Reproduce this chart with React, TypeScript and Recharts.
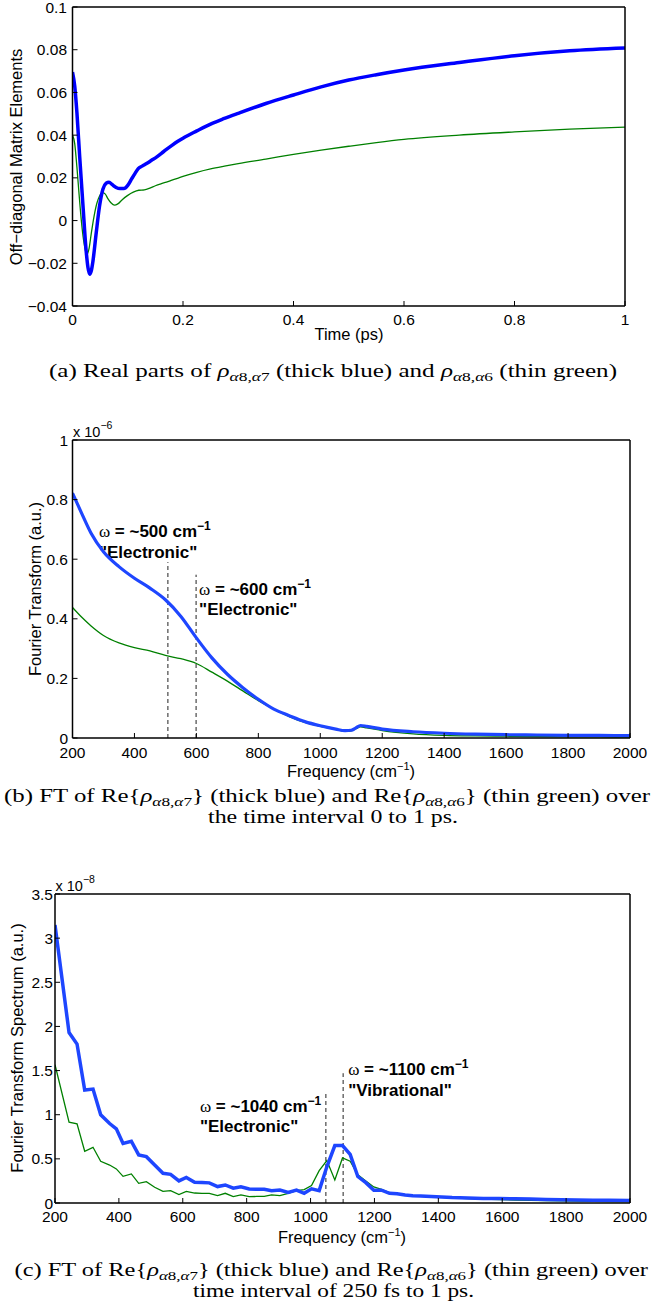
import { LineChart, Line, XAxis, YAxis, ReferenceLine } from 'recharts'

const SANS = '"Liberation Sans", Arial, Helvetica, sans-serif'
const SERIF = '"Liberation Serif", "Times New Roman", serif'
const BLUE_A = '#0000ff'
const BLUE = '#1e46ff'
const GREEN = '#008000'

// (a) real parts vs time (ps)
const timeBlueA = [0, 0.004, 0.008, 0.013, 0.019, 0.025, 0.028, 0.031, 0.034, 0.037, 0.043, 0.049, 0.055, 0.061, 0.066, 0.072, 0.079, 0.086, 0.093, 0.1, 0.107, 0.113, 0.119, 0.126, 0.134, 0.143, 0.152, 0.161, 0.17, 0.18, 0.19, 0.2, 0.225, 0.25, 0.275, 0.3, 0.35, 0.4, 0.45, 0.5, 0.55, 0.6, 0.7, 0.8, 0.9, 1.0]
const blueA = [0.0695, 0.063, 0.0505, 0.03, 0.0069, -0.015, -0.022, -0.0251, -0.0235, -0.019, -0.0056, 0.0069, 0.0147, 0.0175, 0.018, 0.0168, 0.0155, 0.015, 0.015, 0.0165, 0.0195, 0.022, 0.0243, 0.0255, 0.0267, 0.0282, 0.0297, 0.0315, 0.0333, 0.0352, 0.037, 0.0386, 0.042, 0.0452, 0.0478, 0.0502, 0.0548, 0.0588, 0.0626, 0.0658, 0.0683, 0.0705, 0.074, 0.0772, 0.0795, 0.0808]
const timeGreenA = [0, 0.004, 0.008, 0.012, 0.016, 0.02, 0.0235, 0.0265, 0.03, 0.034, 0.039, 0.044, 0.049, 0.054, 0.059, 0.064, 0.07, 0.076, 0.082, 0.09, 0.1, 0.11, 0.12, 0.13, 0.14, 0.15, 0.16, 0.17, 0.18, 0.19, 0.2, 0.225, 0.25, 0.275, 0.3, 0.35, 0.4, 0.45, 0.5, 0.55, 0.6, 0.7, 0.8, 0.9, 1.0]
const greenA = [0.04, 0.036, 0.025, 0.012, 0.0, -0.009, -0.014, -0.0157, -0.013, -0.006, 0.002, 0.008, 0.0115, 0.0131, 0.0125, 0.0103, 0.0082, 0.0072, 0.0078, 0.0098, 0.0118, 0.0133, 0.0142, 0.0144, 0.0152, 0.0163, 0.0172, 0.018, 0.0189, 0.0198, 0.0207, 0.0226, 0.0242, 0.0255, 0.0267, 0.0288, 0.031, 0.033, 0.0348, 0.0365, 0.038, 0.04, 0.0415, 0.0428, 0.0438]
const ticksTimeA = [0, 0.2, 0.4, 0.6, 0.8, 1]
const ticksYA = [-0.04, -0.02, 0, 0.02, 0.04, 0.06, 0.08, 0.1]

// (b) FT over 0 to 1 ps, units of 1e-6
const freqB = [200, 230, 260, 300, 350, 400, 450, 500, 550, 600, 650, 700, 750, 800, 850, 900, 950, 1000, 1050, 1080, 1100, 1115, 1130, 1150, 1200, 1300, 1400, 1500, 1600, 1700, 1800, 1900, 2000]
const blueB = [0.822, 0.753, 0.687, 0.625, 0.575, 0.536, 0.503, 0.464, 0.408, 0.336, 0.269, 0.214, 0.169, 0.13, 0.097, 0.075, 0.055, 0.041, 0.03, 0.0245, 0.026, 0.034, 0.042, 0.039, 0.03, 0.021, 0.016, 0.013, 0.011, 0.01, 0.009, 0.0085, 0.008]
const greenB = [0.438, 0.405, 0.376, 0.344, 0.319, 0.303, 0.292, 0.277, 0.266, 0.25, 0.221, 0.191, 0.158, 0.125, 0.097, 0.072, 0.052, 0.039, 0.029, 0.022, 0.024, 0.031, 0.037, 0.034, 0.025, 0.014, 0.009, 0.007, 0.006, 0.005, 0.004, 0.0035, 0.003]
const ticksYB = [0, 0.2, 0.4, 0.6, 0.8, 1]

// (c) FT over 250 fs to 1 ps, units of 1e-8
const freqC = [200, 244, 269, 293, 319, 343, 371, 392, 413, 439, 462, 486, 512, 538, 562, 588, 611, 637, 660, 683, 709, 733, 758, 782, 808, 831, 855, 878, 904, 930, 956, 980, 1003, 1027, 1051, 1076, 1100, 1124, 1148, 1173, 1198, 1222, 1247, 1271, 1296, 1320, 1345, 1394, 1443, 1492, 1541, 1590, 1639, 1688, 1737, 1786, 1835, 1884, 1933, 2000]
const blueC = [3.15, 1.93, 1.8, 1.28, 1.29, 1.0, 0.9, 0.84, 0.675, 0.7, 0.545, 0.525, 0.43, 0.336, 0.325, 0.25, 0.29, 0.234, 0.232, 0.228, 0.186, 0.204, 0.168, 0.184, 0.158, 0.155, 0.155, 0.138, 0.146, 0.12, 0.146, 0.11, 0.16, 0.14, 0.41, 0.65, 0.65, 0.55, 0.3, 0.23, 0.145, 0.145, 0.11, 0.105, 0.09, 0.082, 0.078, 0.072, 0.062, 0.056, 0.052, 0.05, 0.047, 0.045, 0.041, 0.038, 0.035, 0.032, 0.03, 0.027]
const greenC = [1.567, 0.915, 0.896, 0.586, 0.631, 0.473, 0.43, 0.386, 0.302, 0.329, 0.223, 0.242, 0.178, 0.132, 0.14, 0.095, 0.132, 0.113, 0.11, 0.11, 0.083, 0.11, 0.072, 0.091, 0.072, 0.074, 0.076, 0.091, 0.083, 0.11, 0.14, 0.151, 0.197, 0.367, 0.48, 0.261, 0.51, 0.473, 0.32, 0.25, 0.182, 0.155, 0.117, 0.106, 0.09, 0.08, 0.075, 0.068, 0.058, 0.05, 0.044, 0.038, 0.034, 0.03, 0.027, 0.023, 0.021, 0.019, 0.017, 0.015]
const ticksYC = [0, 0.5, 1, 1.5, 2, 2.5, 3, 3.5]

const ticksFreq = [200, 400, 600, 800, 1000, 1200, 1400, 1600, 1800, 2000]

const minus = (v: number) => String(v).replace('-', '\u2212')
const rows = (xs: number[], ys: number[]) => xs.map((x, i) => ({ x, y: ys[i] }))

type FrameOpts = {
  xDomain: [number, number]
  xTicks: number[]
  yDomain: [number, number]
  yTicks: number[]
  yWidth: number
  xGap: number
  yGap: number
}

// MATLAB style box: ticks inside on all four sides.
// top / right axes need a size of at least 1px or recharts skips them
function frame(o: FrameOpts) {
  const tick = { fontSize: 15.5, fontFamily: SANS, fill: '#000' }
  const ax = { stroke: '#000', strokeWidth: 1.5 }
  const tl = { stroke: '#000', strokeWidth: 1 }
  return [
    <XAxis key="xb" type="number" dataKey="x" domain={o.xDomain} ticks={o.xTicks} interval={0}
      allowDataOverflow height={30} tickSize={-5} tickMargin={5 + o.xGap} tick={tick}
      axisLine={ax} tickLine={tl} tickFormatter={minus} />,
    <XAxis key="xt" xAxisId="top" orientation="top" type="number" dataKey="x" domain={o.xDomain}
      ticks={o.xTicks} interval={0} allowDataOverflow height={1} tickSize={-5} tick={false}
      axisLine={ax} tickLine={tl} />,
    <YAxis key="yl" type="number" domain={o.yDomain} ticks={o.yTicks} interval={0} allowDataOverflow
      width={o.yWidth} tickSize={-5} tickMargin={5 + o.yGap} tick={tick} axisLine={ax}
      tickLine={tl} tickFormatter={minus} />,
    <YAxis key="yr" yAxisId="right" orientation="right" type="number" domain={o.yDomain}
      ticks={o.yTicks} interval={0} allowDataOverflow width={1} tickSize={-5} tick={false}
      axisLine={ax} tickLine={tl} />,
  ]
}

function anno(dx: number, dy1: number, dy2: number, omega: string, kind: string) {
  return (props: any) => {
    const vb = props.viewBox || {}
    const x = (vb.x ?? 0) + dx
    const y = vb.y ?? 0
    return (
      <text fontFamily={SANS} fontSize={17} fontWeight="bold" fill="#000">
        <tspan x={x} y={y + dy1} fontFamily={SERIF} fontWeight="normal">ω</tspan>
        <tspan> = ~{omega} cm</tspan>
        <tspan dy={-7} fontSize={12}>−1</tspan>
        <tspan x={x} y={y + dy2}>"{kind}"</tspan>
      </text>
    )
  }
}

const dash = { stroke: '#222', strokeWidth: 1, strokeDasharray: '4 3' }

function Rho({ b }: { b: number }) {
  return (
    <>
      <tspan fontStyle="italic">ρ</tspan>
      <tspan fontSize={12.5} dy={4}>
        <tspan fontStyle="italic">α</tspan>8,<tspan fontStyle="italic">α</tspan>{b}
      </tspan>
    </>
  )
}

export default function App() {
  return (
    <div style={{ position: 'absolute', left: 0, top: 0, width: 651, height: 1303, background: '#fff' }}>
      <div style={{ position: 'absolute', left: 0, top: 0 }}>
        <LineChart width={651} height={340} margin={{ top: 6, right: 25, bottom: 4, left: 0 }}>
          {frame({ xDomain: [0, 1], xTicks: ticksTimeA, yDomain: [-0.04, 0.1], yTicks: ticksYA, yWidth: 72.5, xGap: 8, yGap: 5.5 })}
          <Line data={rows(timeGreenA, greenA)} dataKey="y" type="monotone" stroke={GREEN} strokeWidth={1.3} dot={false} isAnimationActive={false} />
          <Line data={rows(timeBlueA, blueA)} dataKey="y" type="monotone" stroke={BLUE_A} strokeWidth={3.5} dot={false} isAnimationActive={false} />
        </LineChart>
      </div>

      <div style={{ position: 'absolute', left: 0, top: 420 }}>
        <LineChart width={651} height={350} margin={{ top: 19, right: 20, bottom: 2, left: 0 }}>
          {frame({ xDomain: [200, 2000], xTicks: ticksFreq, yDomain: [0, 1], yTicks: ticksYB, yWidth: 72.5, xGap: 8.5, yGap: 4.5 })}
          <ReferenceLine segment={[{ x: 508, y: 0 }, { x: 508, y: 0.59 }]} {...dash} label={anno(-69, -25, -4, '500', 'Electronic')} />
          <ReferenceLine segment={[{ x: 599, y: 0 }, { x: 599, y: 0.548 }]} {...dash} label={anno(3, 20, 40, '600', 'Electronic')} />
          <Line data={rows(freqB, greenB)} dataKey="y" type="monotone" stroke={GREEN} strokeWidth={1.3} dot={false} isAnimationActive={false} />
          <Line data={rows(freqB, blueB)} dataKey="y" type="monotone" stroke={BLUE} strokeWidth={3.2} dot={false} isAnimationActive={false} />
        </LineChart>
      </div>

      <div style={{ position: 'absolute', left: 0, top: 860 }}>
        <LineChart width={651} height={380} margin={{ top: 33, right: 20, bottom: 7, left: 0 }}>
          {frame({ xDomain: [200, 2000], xTicks: ticksFreq, yDomain: [0, 3.5], yTicks: ticksYC, yWidth: 55, xGap: 7.5, yGap: 2 })}
          <ReferenceLine segment={[{ x: 1048, y: 0 }, { x: 1048, y: 1.256 }]} {...dash} label={anno(-126, 19.5, 40, '1040', 'Electronic')} />
          <ReferenceLine segment={[{ x: 1102, y: 0 }, { x: 1102, y: 1.47 }]} {...dash} label={anno(5, 1.5, 22.5, '1100', 'Vibrational')} />
          <Line data={rows(freqC, greenC)} dataKey="y" type="linear" stroke={GREEN} strokeWidth={1.3} dot={false} isAnimationActive={false} />
          <Line data={rows(freqC, blueC)} dataKey="y" type="linear" stroke={BLUE} strokeWidth={3.5} dot={false} isAnimationActive={false} />
        </LineChart>
      </div>

      <svg width={651} height={1303} style={{ position: 'absolute', left: 0, top: 0, pointerEvents: 'none' }}>
        <g fontFamily={SANS} fontSize={16.5} fill="#000">
          <text x={349} y={340} textAnchor="middle">Time (ps)</text>
          <text transform="translate(22,157) rotate(-90)" textAnchor="middle">Off−diagonal Matrix Elements</text>

          <text x={73} y={437} fontSize={14.5}>x 10<tspan dy={-8} fontSize={10.5}>−6</tspan></text>
          <text x={351} y={777} textAnchor="middle">Frequency (cm<tspan dy={-7} fontSize={11}>−1</tspan><tspan dy={7}>)</tspan></text>
          <text transform="translate(41,589) rotate(-90)" textAnchor="middle">Fourier Transform (a.u.)</text>

          <text x={55.5} y={891} fontSize={14.5}>x 10<tspan dy={-8} fontSize={10.5}>−8</tspan></text>
          <text x={342} y={1243} textAnchor="middle">Frequency (cm<tspan dy={-7} fontSize={11}>−1</tspan><tspan dy={7}>)</tspan></text>
          <text transform="translate(23,1048) rotate(-90)" textAnchor="middle">Fourier Transform Spectrum (a.u.)</text>
        </g>

        <g fontFamily={SERIF} fontSize={18} fill="#000">
          <text x={49} y={377} textLength={568} lengthAdjust="spacingAndGlyphs">
            (a) Real parts of <Rho b={7} /><tspan dy={-4}> (thick blue) and </tspan><Rho b={6} /><tspan dy={-4}> (thin green)</tspan>
          </text>

          <text x={4} y={802} textLength={646} lengthAdjust="spacingAndGlyphs">
            (b) FT of Re{'{'}<Rho b={7} /><tspan dy={-4}>{'}'} (thick blue) and Re{'{'}</tspan><Rho b={6} /><tspan dy={-4}>{'}'} (thin green) over</tspan>
          </text>
          <text x={208} y={823} textLength={250} lengthAdjust="spacingAndGlyphs">the time interval 0 to 1 ps.</text>

          <text x={14.5} y={1276} textLength={633.5} lengthAdjust="spacingAndGlyphs">
            (c) FT of Re{'{'}<Rho b={7} /><tspan dy={-4}>{'}'} (thick blue) and Re{'{'}</tspan><Rho b={6} /><tspan dy={-4}>{'}'} (thin green) over</tspan>
          </text>
          <text x={193} y={1297} textLength={281} lengthAdjust="spacingAndGlyphs">time interval of 250 fs to 1 ps.</text>
        </g>
      </svg>
    </div>
  )
}
